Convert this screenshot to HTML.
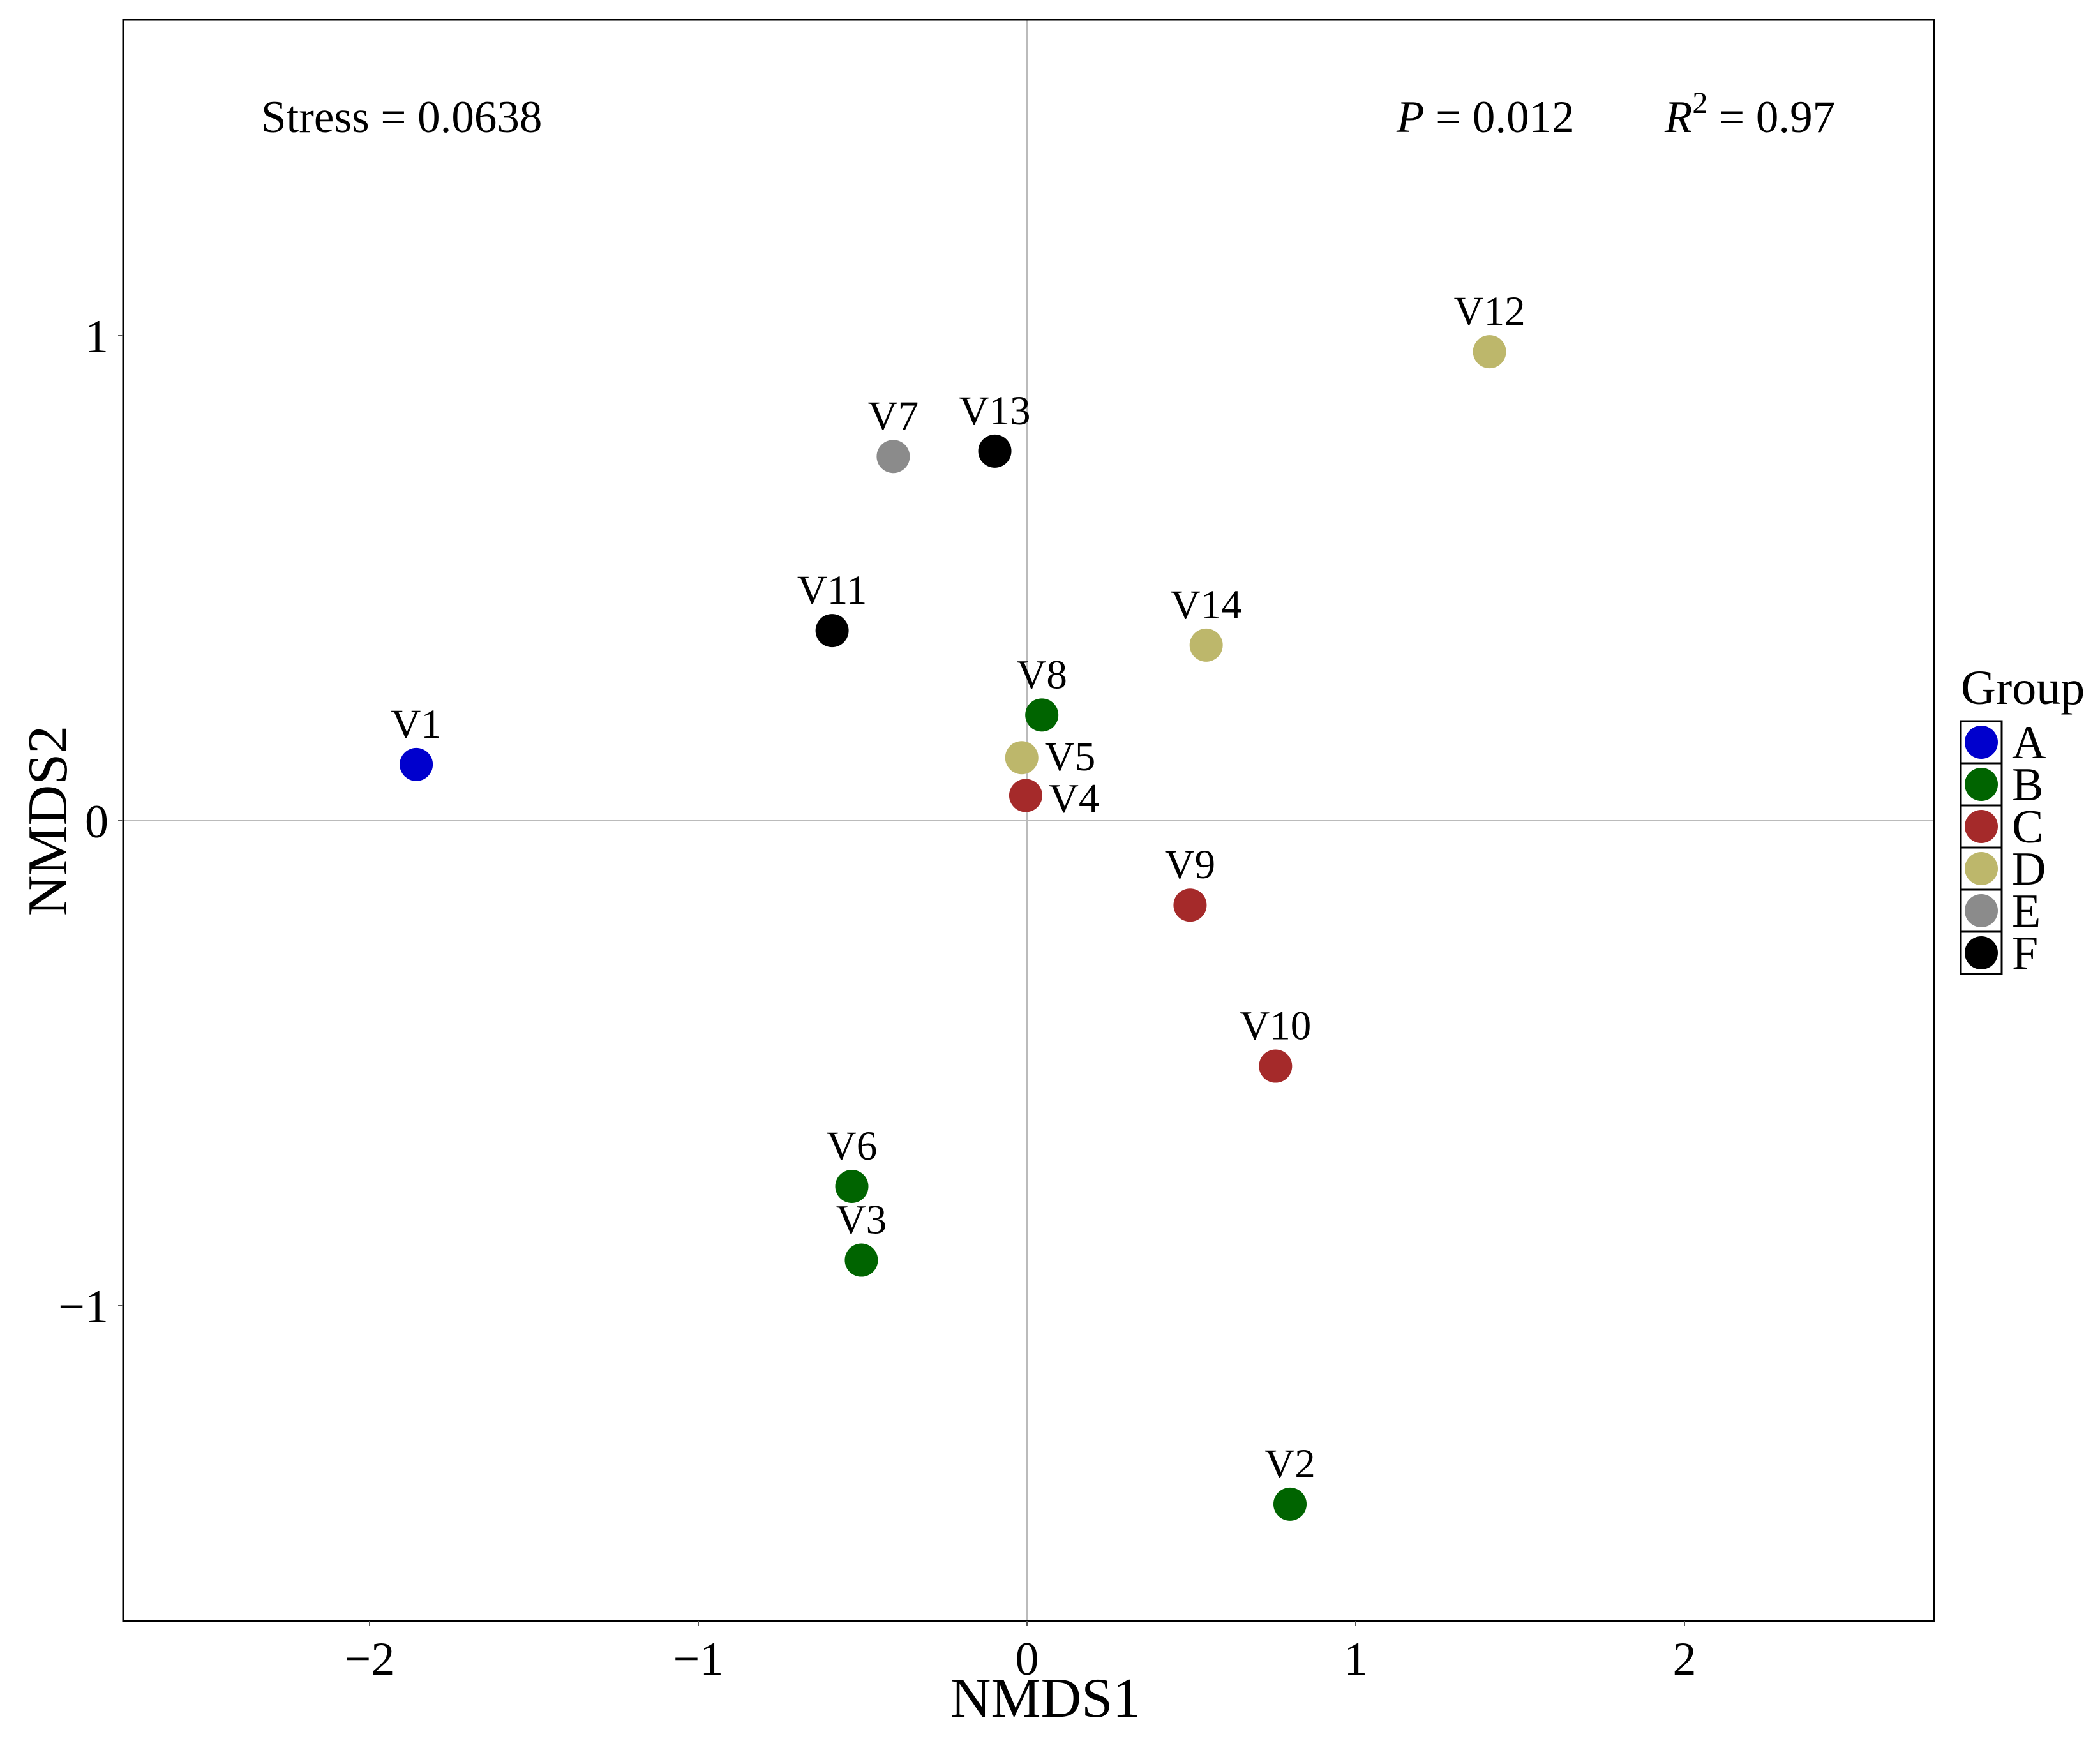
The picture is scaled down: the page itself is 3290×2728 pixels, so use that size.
<!DOCTYPE html>
<html><head><meta charset="utf-8"><style>
html,body{margin:0;padding:0;background:#fff;}
svg{display:block;font-family:"Liberation Serif",serif;}
</style></head><body>
<svg id="chart" width="3290" height="2728" viewBox="0 0 3290 2728">
<rect x="0" y="0" width="3290" height="2728" fill="#fff"/>
<g id="grid"></g>
<rect x="193" y="31" width="2837" height="2509" fill="none" stroke="#000" stroke-width="3"/>
<g id="ticks"></g>
<g id="points"></g>
<text x="1638" y="2690" font-size="88" text-anchor="middle">NMDS1</text>
<text x="0" y="0" font-size="88" text-anchor="middle" transform="translate(104,1286) rotate(-90)">NMDS2</text>
<text x="409" y="207" font-size="71">Stress = 0.0638</text>
<text x="2188" y="207" font-size="71"><tspan font-style="italic">P</tspan> = 0.012</text>
<text x="2608" y="207" font-size="71"><tspan font-style="italic">R</tspan><tspan dy="-30" font-size="48">2</tspan><tspan dy="30"> = 0.97</tspan></text>
<g id="legend">
<text x="3072" y="1103" font-size="76">Group</text>
</g>
</svg>
<script>
const names=["V1","V2","V3","V4","V5","V6","V7","V8","V9","V10","V11","V12","V13","V14"];
const xs=[-1.858,0.80,-0.504,-0.004,-0.016,-0.533,-0.407,0.045,0.496,0.756,-0.593,1.407,-0.098,0.545];
const ys=[0.116,-1.409,-0.906,0.052,0.130,-0.754,0.751,0.218,-0.174,-0.506,0.392,0.967,0.762,0.362];
const groups=["A","B","B","C","D","B","E","B","C","C","F","D","F","D"];
const groupNames=["A","B","C","D","E","F"];
const groupColors=["#0000CD","#006400","#A52A2A","#BDB76B","#8B8B8B","#000000"];
const xTicks=[-2,-1,0,1,2];
const yTicks=[-1,0,1];
const NS="http://www.w3.org/2000/svg";
const L=193,R=3030,T=31,B=2540;
function sx(v){return 1609+v*515;}
function sy(v){return 1286-v*760;}
function mk(tag,attrs,parent,text){const e=document.createElementNS(NS,tag);for(const k in attrs)e.setAttribute(k,attrs[k]);if(text!==undefined)e.textContent=text;parent.appendChild(e);return e;}
const grid=document.getElementById('grid'),ticks=document.getElementById('ticks'),pts=document.getElementById('points'),leg=document.getElementById('legend');
let e=mk('line',{x1:sx(0),x2:sx(0),y1:T,y2:B,stroke:'#bbb','stroke-width':2},grid);


e=mk('line',{x1:L,x2:R,y1:sy(0),y2:sy(0),stroke:'#bbb','stroke-width':2},grid);


xTicks.forEach(t=>{
  const x=sx(t);
  let l=mk('line',{x1:x,x2:x,y1:B,y2:B+8,stroke:'#555','stroke-width':2},ticks);
  
  
  let tx=mk('text',{x:x,y:2624,'font-size':74,'text-anchor':'middle'},ticks,t<0?'\u2212'+(-t):String(t));
  
  
});
yTicks.forEach(t=>{
  const y=sy(t);
  let l=mk('line',{x1:L-8,x2:L,y1:y,y2:y,stroke:'#555','stroke-width':2},ticks);
  
  
  let tx=mk('text',{x:170,y:y+26,'font-size':74,'text-anchor':'end'},ticks,t<0?'\u2212'+(-t):String(t));
  
  
});
names.forEach((n,i)=>{
  const cx=sx(xs[i]),cy=sy(ys[i]);
  const col=groupColors[groupNames.indexOf(groups[i])];
  let c=mk('circle',{cx:cx,cy:cy,r:26,fill:col},pts);
  
  
  let side=(n==="V4"||n==="V5");
  let t=mk('text',side?{x:cx+36,y:cy+(n==="V5"?20:26),'font-size':65}:{x:cx,y:cy-42,'font-size':65,'text-anchor':'middle'},pts,n);
  
  
});
groupNames.forEach((g,i)=>{
  const y=1130+i*66;
  let r=mk('rect',{x:3072,y:y,width:64,height:66,fill:'#fff',stroke:'#000','stroke-width':3},leg);
  
  
  let c=mk('circle',{cx:3104,cy:y+33,r:26,fill:groupColors[i]},leg);
  
  
  let t=mk('text',{x:3152,y:y+58,'font-size':74},leg,g);
  
  
});
</script>
</body></html>
